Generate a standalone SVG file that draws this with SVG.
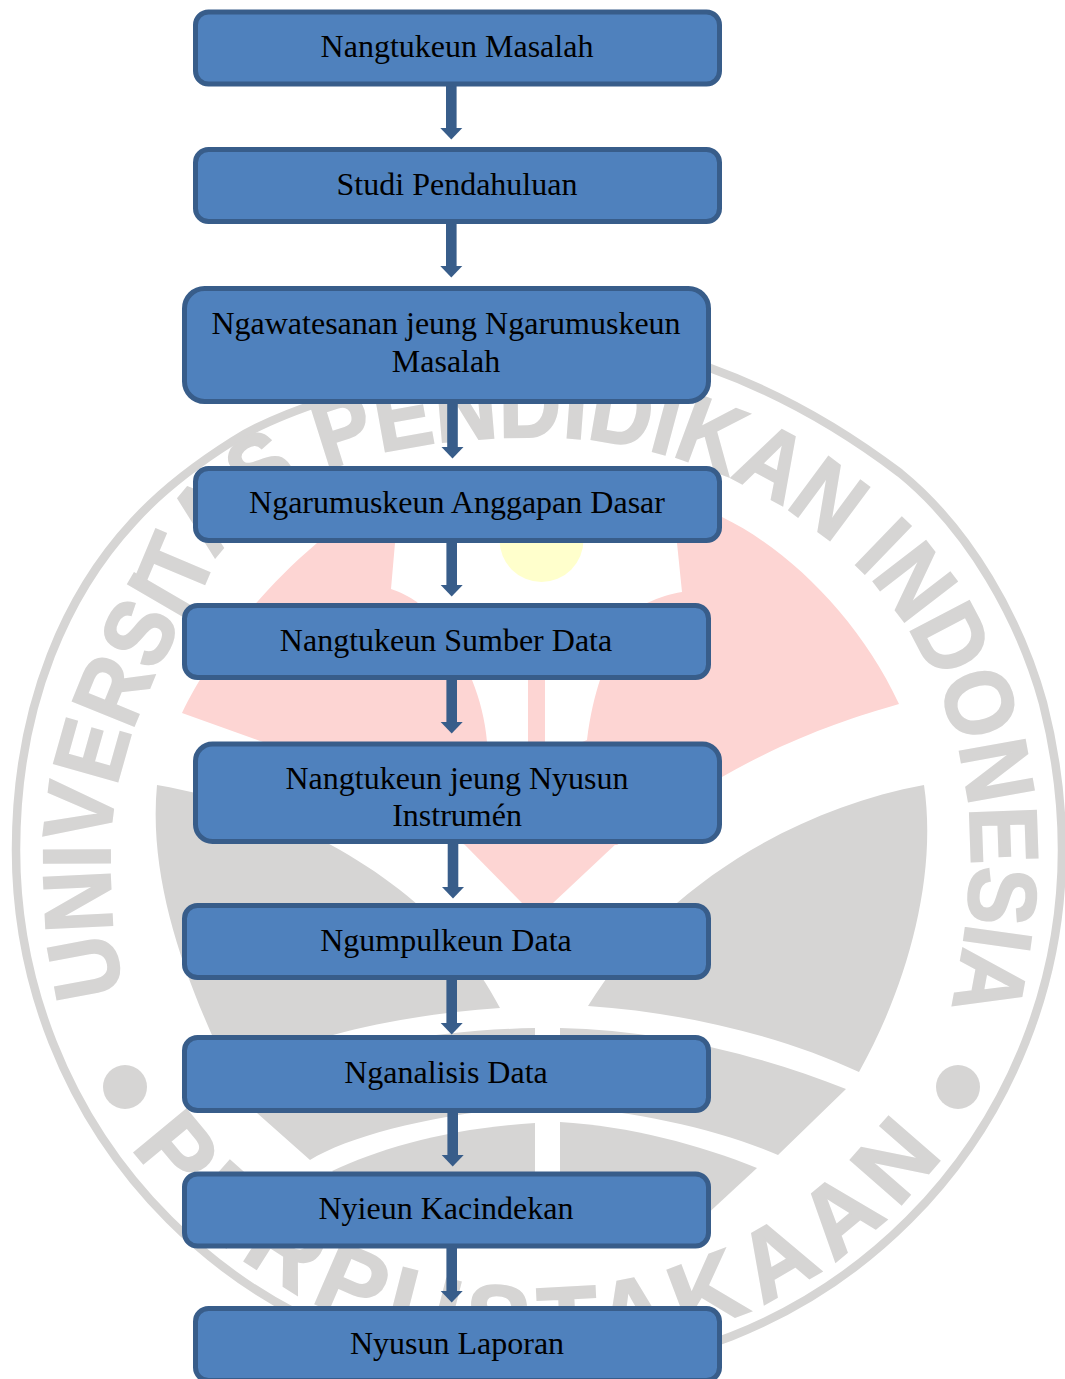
<svg xmlns="http://www.w3.org/2000/svg" width="1065" height="1379" viewBox="0 0 1065 1379">
<style>
.wm{fill:#d6d5d4}
.pk{fill:#fdd5d3}
.wt{font-family:"Liberation Sans",Arial,sans-serif;font-weight:bold;font-size:96px;fill:#d6d5d4;stroke:#d6d5d4;stroke-width:2}
.n{fill:#4f81bd;stroke:#385d8a;stroke-width:5}
.t{font-family:"Liberation Serif","Times New Roman",serif;font-size:32px;fill:#000;text-anchor:middle}
.c{stroke:#385d8a;stroke-width:10.6;fill:none}
</style>
<defs>
<marker id="h" markerUnits="userSpaceOnUse" markerWidth="13" markerHeight="24" refX="0" refY="12" orient="auto"><path d="M0,1 L11.5,12 L0,23 Z" fill="#385d8a"/></marker>
<path id="arcTop" d="M125,992 C112,950 110,900 110,850 C110,750 170,640 203,588 C240,490 350,437 540,437 C650,437 770,478 858,567 C925,630 971,740 971,850 C971,900 965,950 945,1040"/>
<path id="arcBot" d="M131,1147 A505,505 0 0 0 949,1147"/>
</defs>
<rect width="1065" height="1379" fill="#fff"/>
<g id="watermark">
<path d="M16,850 C16,700 70,590 133,522 C160,492 195,465 233,441 C320,385 600,320 710,368 C785,395 850,435 900,473 C970,530 1020,620 1043,703 C1055,750 1062,800 1062,850 A523,523 0 0 1 16,850 Z" fill="none" stroke="#d6d5d4" stroke-width="8.5"/>
<text class="wt"><textPath href="#arcTop" textLength="1642" lengthAdjust="spacingAndGlyphs">UNIVERSITAS PENDIDIKAN INDONESIA</textPath></text>
<text class="wt" style="font-size:98px"><textPath href="#arcBot" textLength="943" lengthAdjust="spacing">PERPUSTAKAAN</textPath></text>
<circle class="wm" cx="125" cy="1087" r="22"/>
<circle class="wm" cx="958" cy="1087" r="22"/>
<path class="pk" d="M182,713 C205,665 250,600 317,543 L395,525 L395,543 L391,589 C400,592 410,597 417,602 L472,680 C480,700 485,720 487,742 L510,850 L462,844 L263,742 Z"/>
<path class="pk" d="M722,517 C790,550 860,620 899,704 C850,718 790,738 722,777 L617,845 L540,845 L540,760 L587,740 C590,715 595,695 600,680 L647,603 C660,597 670,594 682,592 L677,543 L680,500 Z"/>
<polygon class="pk" points="462,842 618,842 553,903 522,903"/>
<rect class="pk" x="528" y="670" width="17" height="90"/>
<circle cx="541.5" cy="540" r="42" fill="#ffffcc"/>
<path class="wm" d="M157,785 C300,810 440,890 500,1008 C440,1012 380,1022 333,1035 L229,1072 C185,980 148,880 157,785 Z"/>
<path class="wm" d="M924,785 C790,810 660,890 588,1006 C680,1012 780,1035 859,1072 C905,990 938,880 924,785 Z"/>
<path class="wm" d="M535,1028 C430,1030 320,1050 222,1085 L257,1113 L310,1160 C350,1135 440,1113 535,1106 Z"/>
<path class="wm" d="M560,1028 C660,1030 760,1055 846,1089 L778,1155 C720,1130 640,1112 560,1106 Z"/>
<path class="wm" d="M535,1123 C450,1128 380,1148 332,1171 L400,1230 L535,1230 Z"/>
<path class="wm" d="M560,1122 C630,1126 700,1145 757,1168 L690,1230 L560,1230 Z"/>
</g>
<g id="connectors">
<line class="c" x1="451.3" y1="84" x2="451.3" y2="128" marker-end="url(#h)"/>
<line class="c" x1="451.3" y1="222" x2="451.3" y2="266" marker-end="url(#h)"/>
<line class="c" x1="452.5" y1="402" x2="452.5" y2="447" marker-end="url(#h)"/>
<line class="c" x1="451.7" y1="541" x2="451.7" y2="585" marker-end="url(#h)"/>
<line class="c" x1="451.7" y1="678" x2="451.7" y2="722" marker-end="url(#h)"/>
<line class="c" x1="453" y1="842" x2="453" y2="887" marker-end="url(#h)"/>
<line class="c" x1="451.7" y1="978" x2="451.7" y2="1023" marker-end="url(#h)"/>
<line class="c" x1="452.7" y1="1111" x2="452.7" y2="1155" marker-end="url(#h)"/>
<line class="c" x1="451.7" y1="1246" x2="451.7" y2="1291" marker-end="url(#h)"/>
</g>
<g id="node1"><rect class="n" x="195.5" y="12" width="524" height="72" rx="13"/><text class="t" x="457" y="57">Nangtukeun Masalah</text></g>
<g id="node2"><rect class="n" x="195.5" y="149.5" width="524" height="72" rx="13"/><text class="t" x="457" y="195">Studi Pendahuluan</text></g>
<g id="node3"><rect class="n" x="184.5" y="288.5" width="524" height="113" rx="20"/><text class="t" x="446" y="334">Ngawatesanan jeung Ngarumuskeun</text><text class="t" x="446" y="372">Masalah</text></g>
<g id="node4"><rect class="n" x="195.5" y="468.5" width="524" height="72" rx="13"/><text class="t" x="457" y="513">Ngarumuskeun Anggapan Dasar</text></g>
<g id="node5"><rect class="n" x="184.5" y="605.5" width="524" height="72" rx="13"/><text class="t" x="446" y="651">Nangtukeun Sumber Data</text></g>
<g id="node6"><rect class="n" x="195.5" y="744" width="524" height="97.5" rx="17"/><text class="t" x="457" y="789">Nangtukeun jeung Nyusun</text><text class="t" x="457" y="826">Instrumén</text></g>
<g id="node7"><rect class="n" x="184.5" y="905.5" width="524" height="72" rx="13"/><text class="t" x="446" y="951">Ngumpulkeun Data</text></g>
<g id="node8"><rect class="n" x="184.5" y="1037.5" width="524" height="73" rx="13"/><text class="t" x="446" y="1083">Nganalisis Data</text></g>
<g id="node9"><rect class="n" x="184.5" y="1174" width="524" height="72" rx="13"/><text class="t" x="446" y="1219">Nyieun Kacindekan</text></g>
<g id="node10"><rect class="n" x="195.5" y="1308.5" width="524" height="72" rx="13"/><text class="t" x="457" y="1354">Nyusun Laporan</text></g>
</svg>
